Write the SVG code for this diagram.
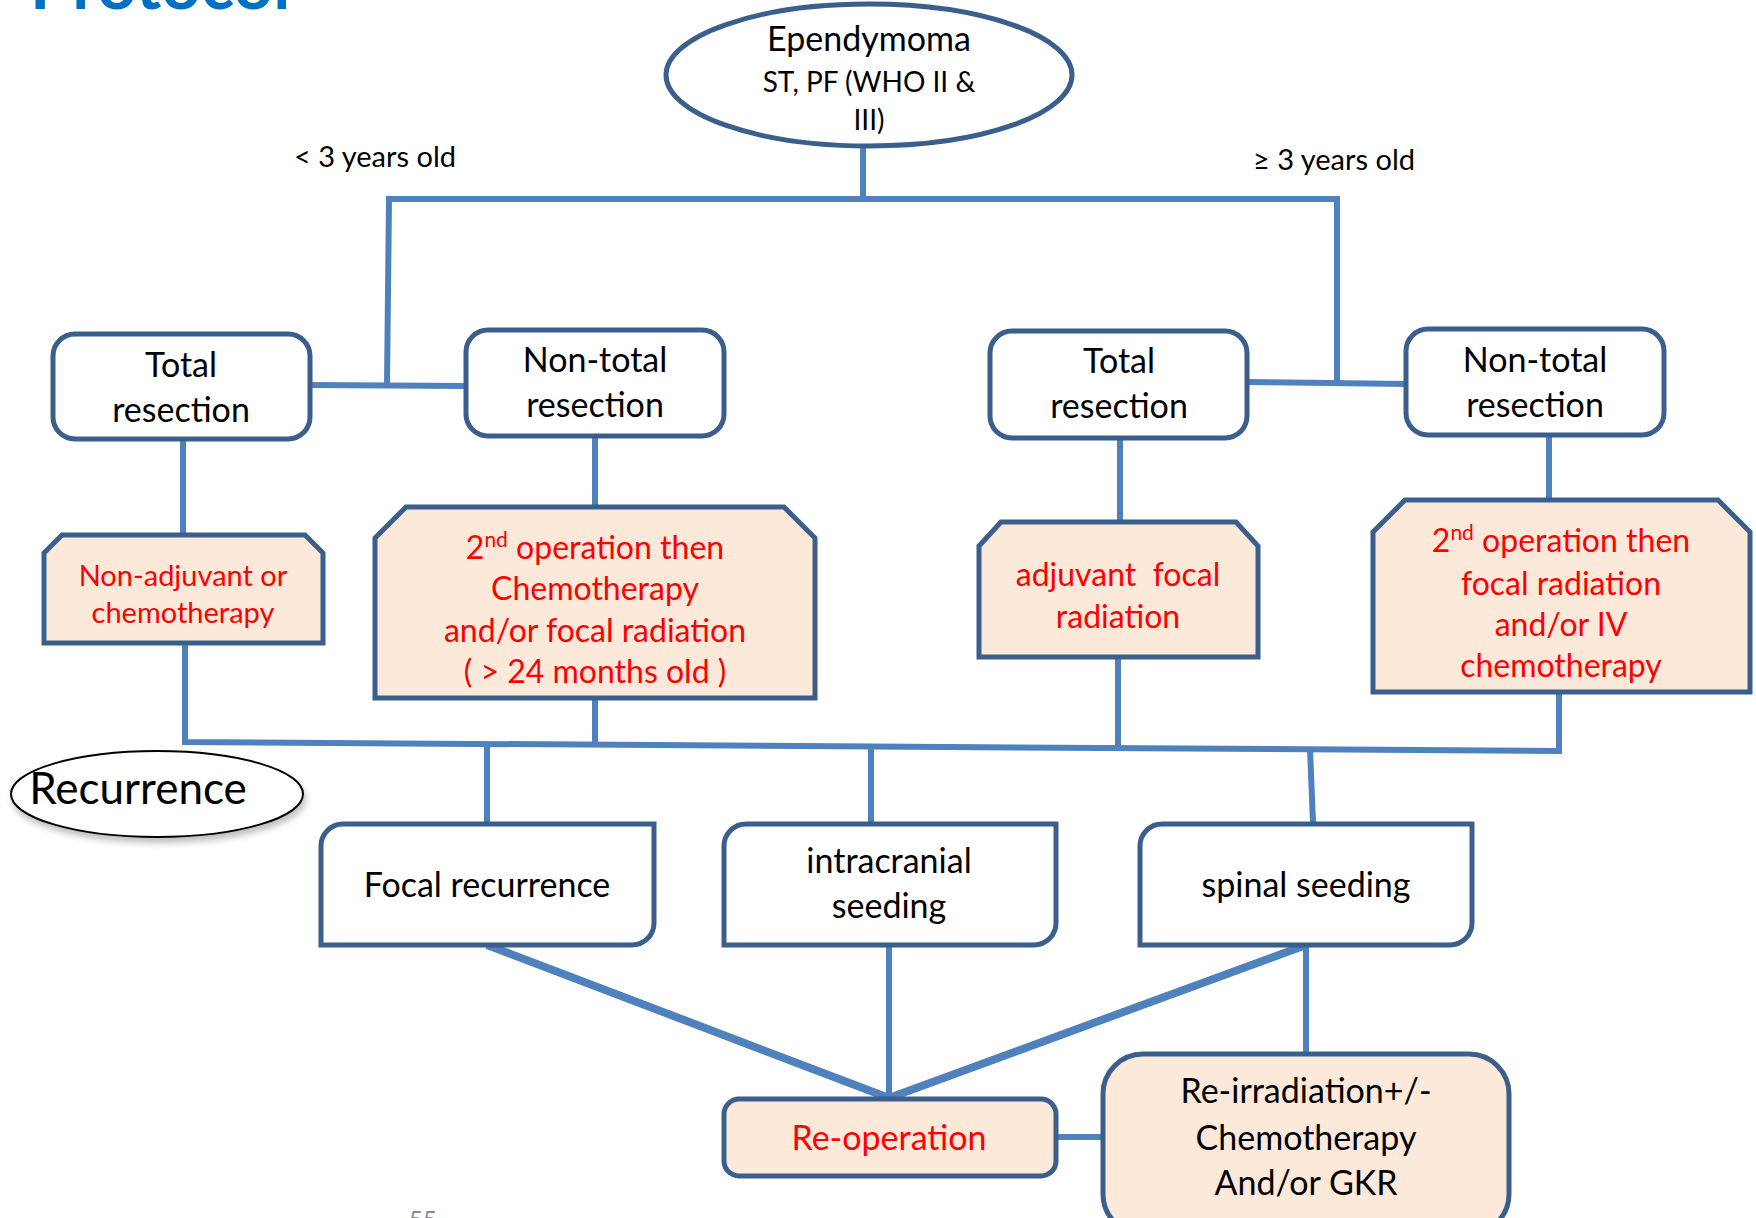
<svg xmlns="http://www.w3.org/2000/svg" width="1756" height="1218" viewBox="0 0 1756 1218">
  <style>
    .t { font-family: Lato, "Open Sans", "Liberation Sans", sans-serif; text-anchor: middle; fill: #000; }
    .r { fill: #FF0000; }
    .box { fill: #FFFFFF; stroke: #3B5F8D; stroke-width: 5; }
    .peach { fill: #FDE9DA; stroke: #3B5F8D; stroke-width: 5; }
    .con { fill: none; stroke: #4F81BD; stroke-width: 6; }
    .thick { stroke-width: 8; }
  </style>
  <defs>
    <filter id="shadow" x="-20%" y="-30%" width="140%" height="170%">
      <feDropShadow dx="2" dy="5" stdDeviation="3" flood-color="#000" flood-opacity="0.25"/>
    </filter>
  </defs>
  <rect width="1756" height="1218" fill="#FFFFFF"/>

  <text x="30" y="9" font-family="Lato, 'Open Sans', sans-serif" font-weight="bold" font-size="69" fill="#0070C0">Protocol</text>
  <text x="423" y="1228" font-family="Lato, 'Open Sans', sans-serif" font-size="24" fill="#8C8C8C" text-anchor="middle">55</text>

  <g id="connectors">
    <path class="con" d="M 863 147 V 199"/>
    <path class="con" d="M 387 385 L 389 199 L 1337 199 L 1337 384"/>
    <path class="con" d="M 310 385 L 466 386"/>
    <path class="con" d="M 1247 382 L 1406 384"/>
    <path class="con" d="M 183 439 V 533"/>
    <path class="con" d="M 595 436 V 507"/>
    <path class="con" d="M 1120 438 V 522"/>
    <path class="con" d="M 1549 435 V 500"/>
    <path class="con" d="M 185 643 L 185 742 L 1559 751 L 1559 692"/>
    <path class="con" d="M 595 698 V 743"/>
    <path class="con" d="M 1118 657 V 748"/>
    <path class="con" d="M 487 744 V 823"/>
    <path class="con" d="M 871 747 V 823"/>
    <path class="con" d="M 1310 749 L 1313 823"/>
    <path class="con thick" d="M 487 945 L 889 1098"/>
    <path class="con" d="M 889 945 V 1098"/>
    <path class="con thick" d="M 1306 945 L 889 1098"/>
    <path class="con" d="M 1306 945 V 1053"/>
    <path class="con" stroke-width="9" d="M 1056 1137 H 1103"/>
  </g>

  <g id="ependymoma">
    <ellipse cx="869" cy="75" rx="203" ry="71" fill="#FFFFFF" stroke="#3B5F8D" stroke-width="5"/>
    <text class="t" x="869" y="51" font-size="34">Ependymoma</text>
    <text class="t" x="869" y="92" font-size="28">ST, PF (WHO II &amp;</text>
    <text class="t" x="869" y="130" font-size="28">III)</text>
  </g>

  <g id="label-lt3">
    <text class="t" x="375" y="167" font-size="29">&lt; 3 years old</text>
  </g>
  <g id="label-ge3">
    <text class="t" x="1334" y="170" font-size="29">≥ 3 years old</text>
  </g>

  <g id="total-left">
    <rect class="box" x="53" y="334" width="257" height="105" rx="22"/>
    <text class="t" x="181" y="377" font-size="34">Total</text>
    <text class="t" x="181" y="422" font-size="34">resection</text>
  </g>
  <g id="nontotal-left">
    <rect class="box" x="466" y="330" width="258" height="106" rx="22"/>
    <text class="t" x="595" y="372" font-size="34">Non-total</text>
    <text class="t" x="595" y="417" font-size="34">resection</text>
  </g>
  <g id="total-right">
    <rect class="box" x="990" y="331" width="257" height="107" rx="22"/>
    <text class="t" x="1119" y="373" font-size="34">Total</text>
    <text class="t" x="1119" y="418" font-size="34">resection</text>
  </g>
  <g id="nontotal-right">
    <rect class="box" x="1406" y="329" width="258" height="106" rx="22"/>
    <text class="t" x="1535" y="372" font-size="34">Non-total</text>
    <text class="t" x="1535" y="417" font-size="34">resection</text>
  </g>

  <g id="nonadjuvant">
    <path class="peach" d="M 44 553 L 62 535 H 305 L 323 553 V 643 H 44 Z"/>
    <text class="t r" x="183" y="586" font-size="29">Non-adjuvant or</text>
    <text class="t r" x="183" y="623" font-size="29">chemotherapy</text>
  </g>
  <g id="second-op-left">
    <path class="peach" d="M 375 538 L 406 507 H 784 L 815 538 V 698 H 375 Z"/>
    <text class="t r" x="595" y="559" font-size="32">2<tspan font-size="21" dy="-12">nd</tspan><tspan dy="12"> operation then</tspan></text>
    <text class="t r" x="595" y="600" font-size="32">Chemotherapy</text>
    <text class="t r" x="595" y="642" font-size="32">and/or focal radiation</text>
    <text class="t r" x="595" y="683" font-size="32">( &gt; 24 months old )</text>
  </g>
  <g id="adjuvant-focal">
    <path class="peach" d="M 979 546 L 1001 522 H 1236 L 1258 546 V 657 H 979 Z"/>
    <text class="t r" x="1118" y="586" font-size="32" xml:space="preserve">adjuvant  focal</text>
    <text class="t r" x="1118" y="628" font-size="32">radiation</text>
  </g>
  <g id="second-op-right">
    <path class="peach" d="M 1373 532 L 1405 500 H 1718 L 1750 532 V 692 H 1373 Z"/>
    <text class="t r" x="1561" y="552" font-size="32">2<tspan font-size="21" dy="-12">nd</tspan><tspan dy="12"> operation then</tspan></text>
    <text class="t r" x="1561" y="595" font-size="32">focal radiation</text>
    <text class="t r" x="1561" y="636" font-size="32">and/or IV</text>
    <text class="t r" x="1561" y="677" font-size="32">chemotherapy</text>
  </g>

  <g id="recurrence">
    <ellipse cx="157" cy="794" rx="146" ry="43" fill="#FFFFFF" stroke="#000000" stroke-width="2" filter="url(#shadow)"/>
    <text class="t" x="138" y="804" font-size="44">Recurrence</text>
  </g>

  <g id="focal-recurrence">
    <path class="box" d="M 343 824 H 654 V 923 A 22 22 0 0 1 632 945 H 321 V 846 A 22 22 0 0 1 343 824 Z"/>
    <text class="t" x="487" y="897" font-size="34">Focal recurrence</text>
  </g>
  <g id="intracranial">
    <path class="box" d="M 746 824 H 1056 V 923 A 22 22 0 0 1 1034 945 H 724 V 846 A 22 22 0 0 1 746 824 Z"/>
    <text class="t" x="889" y="873" font-size="34">intracranial</text>
    <text class="t" x="889" y="918" font-size="34">seeding</text>
  </g>
  <g id="spinal-seeding">
    <path class="box" d="M 1162 824 H 1472 V 923 A 22 22 0 0 1 1450 945 H 1140 V 846 A 22 22 0 0 1 1162 824 Z"/>
    <text class="t" x="1306" y="897" font-size="34">spinal seeding</text>
  </g>

  <g id="reoperation">
    <rect class="peach" x="724" y="1099" width="332" height="77" rx="15"/>
    <text class="t r" x="889" y="1150" font-size="34">Re-operation</text>
  </g>
  <g id="reirradiation">
    <rect class="peach" x="1103" y="1054" width="406" height="180" rx="40"/>
    <text class="t" x="1306" y="1103" font-size="34">Re-irradiation+/-</text>
    <text class="t" x="1306" y="1150" font-size="34">Chemotherapy</text>
    <text class="t" x="1306" y="1195" font-size="34">And/or GKR</text>
  </g>
</svg>
